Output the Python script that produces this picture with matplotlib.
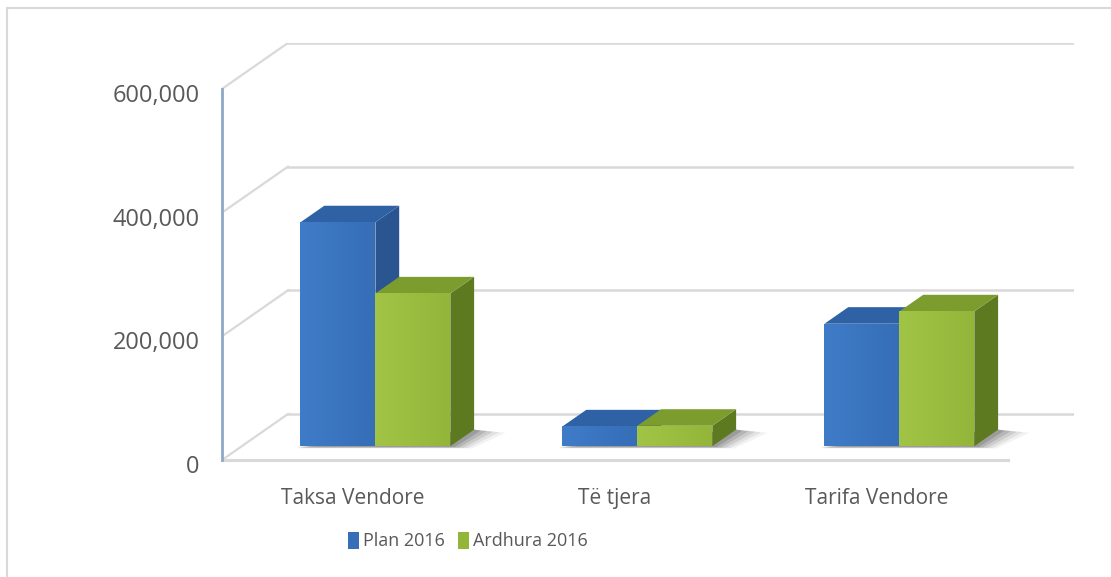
import matplotlib.pyplot as plt
import numpy as np
from matplotlib.patches import Polygon, Patch
from matplotlib.lines import Line2D
from matplotlib.colors import LinearSegmentedColormap
from matplotlib.transforms import offset_copy

plt.rcParams['font.family'] = ['Open Sans', 'DejaVu Sans']

categories = ['Taksa Vendore', 'Të tjera', 'Tarifa Vendore']
series_names = ['Plan 2016', 'Ardhura 2016']
plan_2016 = [362000, 32000, 198000]
ardhura_2016 = [247000, 33000, 218000]
y_ticks = [0, 200000, 400000, 600000]
y_tick_labels = ['0', '200,000', '400,000', '600,000']

# 3d look: offset of the back wall in data units, bar depth slice
DX = 0.252
DY = 74400
D0, D1 = 0.30, 0.66
BW = 0.286

colors = {
    'front': [('#3f7cc8', '#366eb7'), ('#a2c446', '#93b63a')],
    'top': ['#2f61a5', '#7c9d2e'],
    'side': ['#2a5590', '#5d7a21'],
}
text_col = '#595959'
grid_col = '#d9d9d9'

fig = plt.figure(figsize=(11.11, 5.77), dpi=100)
W, H = 1111, 577
ax = fig.add_axes([222 / W, (H - 460) / H, 852 / W, 417.1 / H])
ymax = y_ticks[-1] + DY
ax.set_xlim(0, 3 + DX)
ax.set_ylim(0, ymax)

# walls and floor
for v in y_ticks:
    ax.plot([DX, 3 + DX], [v + DY, v + DY], color=grid_col, lw=1.8, zorder=1)
    ax.plot([0, DX], [v, v + DY], color=grid_col, lw=1.6, zorder=1)
ax.plot([0, 3], [0, 0], color=grid_col, lw=2.2, zorder=1, clip_on=False)
ax.plot([0, 0], [0, y_ticks[-1]], color='#8fa8c3', lw=2, zorder=2, clip_on=False)

def shadow(xl, xr):
    # soft floor shadow to the right of a bar pair
    for k, a in enumerate([0.07, 0.1, 0.14, 0.18, 0.24]):
        s = 0.12 - k * 0.024
        pts = [(xl + D0 * DX - 0.012, D0 * DY - 3500 + k * 500),
               (xr + D0 * DX + s * 0.7, D0 * DY - 3500 + k * 500),
               (xr + D1 * DX + s, D1 * DY - 5000 + k * 800),
               (xr + D1 * DX, D1 * DY)]
        ax.add_patch(Polygon(pts, closed=True, facecolor='#505050', alpha=a,
                             edgecolor='none', zorder=3))

z = 4
for i in range(len(categories)):
    left0 = i + 0.5 - BW + 0.01
    shadow(left0, left0 + 2 * BW)
    for j, vals in enumerate([plan_2016, ardhura_2016]):
        v = vals[i]
        xl = left0 + j * BW
        xr = xl + BW
        # side face
        side = [(xr + D0 * DX, D0 * DY), (xr + D1 * DX, D1 * DY),
                (xr + D1 * DX, v + D1 * DY), (xr + D0 * DX, v + D0 * DY)]
        ax.add_patch(Polygon(side, closed=True, facecolor=colors['side'][j],
                             edgecolor='none', zorder=z))
        # top face
        top = [(xl + D0 * DX, v + D0 * DY), (xr + D0 * DX, v + D0 * DY),
               (xr + D1 * DX, v + D1 * DY), (xl + D1 * DX, v + D1 * DY)]
        ax.add_patch(Polygon(top, closed=True, facecolor=colors['top'][j],
                             edgecolor='none', zorder=z))
        # front face with a gentle gradient
        bars = ax.bar(xl + D0 * DX, v, width=BW, bottom=D0 * DY, align='edge',
                      color=colors['front'][j][0], edgecolor='none', zorder=z + 1)
        cmap = LinearSegmentedColormap.from_list('f', colors['front'][j])
        grad = np.linspace(0, 1, 64).reshape(1, -1)
        im = ax.imshow(grad, cmap=cmap, aspect='auto', zorder=z + 2,
                       extent=[xl + D0 * DX, xr + D0 * DX, D0 * DY, v + D0 * DY])
        im.set_clip_path(bars[0])
        z += 3

ax.set_xlim(0, 3 + DX)
ax.set_ylim(0, ymax)

for s in ax.spines.values():
    s.set_visible(False)
ax.set_yticks(y_ticks)
ax.set_yticklabels(y_tick_labels)
ax.set_xticks([i + 0.5 for i in range(len(categories))])
ax.set_xticklabels(categories)
ax.tick_params(axis='y', length=0, pad=16, labelsize=17, labelcolor=text_col)
ax.tick_params(axis='x', length=0, pad=20, labelsize=15, labelcolor=text_col)
for lab in ax.get_yticklabels():
    lab.set_va('center_baseline')
    lab.set_transform(offset_copy(lab.get_transform(), fig=fig, y=-4, units='dots'))

handles = [Patch(facecolor=colors['front'][0][1], edgecolor='none'),
           Patch(facecolor=colors['front'][1][1], edgecolor='none')]
fig.legend(handles, series_names, loc='center', bbox_to_anchor=(468 / W, 1 - 541 / H),
           ncol=2, frameon=False, fontsize=13, handlelength=0.6, handleheight=1.1,
           handletextpad=0.25, columnspacing=0.7, labelcolor=text_col)

# outer frame (left and top edges)
fig.add_artist(Line2D([7 / W, 7 / W], [0, 1 - 8 / H], color=grid_col, lw=1.5))
fig.add_artist(Line2D([7 / W, 1], [1 - 8 / H, 1 - 8 / H], color=grid_col, lw=1.5))

fig.savefig('out.png', dpi=100)
